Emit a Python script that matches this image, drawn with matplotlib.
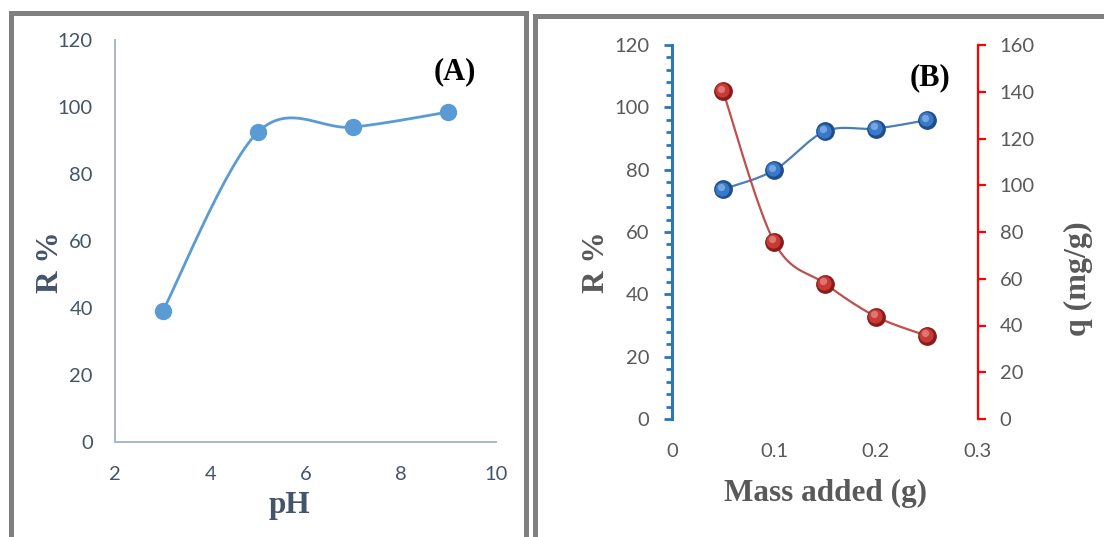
import numpy as np
import matplotlib
matplotlib.use("Agg")
import matplotlib.pyplot as plt
from matplotlib.patches import Rectangle
from matplotlib.ticker import MultipleLocator
import matplotlib.transforms as mtransforms

# data
ph = [3, 5, 7, 9]
removal_ph = [39, 92.5, 94, 98.5]

mass = [0.05, 0.10, 0.15, 0.20, 0.25]
removal_mass = [73.7, 79.8, 92.3, 93.2, 95.9]
q_mass = [140.3, 75.9, 57.9, 43.8, 35.6]

W, H = 1104, 537
fig = plt.figure(figsize=(W / 100, H / 100), dpi=100)

def px(x, y):
    return x / W, 1 - y / H

def smooth(x, y, n=40):
    # Excel-like smoothed line (Catmull-Rom as cubic Bezier)
    x = np.asarray(x, float); y = np.asarray(y, float)
    P = np.column_stack([x, y])
    pts = []
    t = np.linspace(0, 1, n)[:, None]
    for i in range(len(P) - 1):
        p0 = P[max(i - 1, 0)]; p1 = P[i]; p2 = P[i + 1]; p3 = P[min(i + 2, len(P) - 1)]
        c1 = p1 + (p2 - p0) / 6
        c2 = p2 - (p3 - p1) / 6
        seg = (1 - t) ** 3 * p1 + 3 * (1 - t) ** 2 * t * c1 + 3 * (1 - t) * t ** 2 * c2 + t ** 3 * p2
        pts.append(seg)
    pts = np.vstack(pts)
    return pts[:, 0], pts[:, 1]

def spheres(ax, x, y, dark, mid, light, size=12.5):
    # fake 3D ball: dark rim, main body, soft highlight up-left
    ax.plot(x, y, 'o', ms=size, color=dark, mec=dark, zorder=4)
    off1 = mtransforms.offset_copy(ax.transData, fig=fig, x=-0.6, y=0.8, units='dots')
    ax.plot(x, y, 'o', ms=size * 0.82, color=mid, mec='none', zorder=5, transform=off1)
    off2 = mtransforms.offset_copy(ax.transData, fig=fig, x=-1.8, y=2.4, units='dots')
    ax.plot(x, y, 'o', ms=size * 0.42, color=light, mec='none', alpha=0.55, zorder=6, transform=off2)

tick_font = "Lato"
label_font = "Liberation Serif"

# frames
fig.patches.append(Rectangle((10.5 / W, -0.1), 515 / W, 1.1 - 12.5 / H, transform=fig.transFigure,
                             fill=False, ec='#808080', lw=3.6))
fig.patches.append(Rectangle((534.5 / W, -0.1), 0.6, 1.1 - 15.5 / H, transform=fig.transFigure,
                             fill=False, ec='#808080', lw=3.6))

# ---------- panel A ----------
l, b = px(115, 442)
r, t = px(496, 40)
axA = fig.add_axes([l, b, r - l, t - b])
xs, ys = smooth(ph, removal_ph)
axA.plot(xs, ys, color='#5B9BD5', lw=2, zorder=3)
axA.plot(ph, removal_ph, 'o', ms=11.5, color='#5B9BD5', zorder=4)
axA.set_xlim(2, 10)
axA.set_ylim(0, 120)
axA.set_xticks([2, 4, 6, 8, 10])
axA.set_yticks(range(0, 121, 20))
for s in ['top', 'right']:
    axA.spines[s].set_visible(False)
for s in ['left', 'bottom']:
    axA.spines[s].set_color('#A9B5C9')
    axA.spines[s].set_linewidth(1.4)
axA.tick_params(length=0, labelsize=14.5, labelcolor='#44546A')
axA.tick_params(axis='y', pad=16)
axA.tick_params(axis='x', pad=17)
for lab in axA.get_xticklabels() + axA.get_yticklabels():
    lab.set_fontfamily(tick_font)

fig.text(*px(50, 262), 'R %', rotation=90, ha='center', va='center', fontsize=22.5,
         fontweight='bold', family=label_font, color='#44546A')
fig.text(*px(289, 505), 'pH', ha='center', va='center', fontsize=22.5,
         fontweight='bold', family=label_font, color='#44546A')
fig.text(*px(455, 72), '(A)', ha='center', va='center', fontsize=22,
         fontweight='bold', family=label_font, color='black')

# ---------- panel B ----------
l, b = px(672, 419)
r, t = px(978, 45)
axB = fig.add_axes([l, b, r - l, t - b])
axB2 = axB.twinx()

xs, ys = smooth(mass, removal_mass)
axB.plot(xs, ys, color='#4A7EBB', lw=1.6, zorder=3)
spheres(axB, mass, removal_mass, '#1F4E8C', '#3A78C9', '#A9CCF2')

xs, ys = smooth(mass, q_mass)
axB2.plot(xs, ys, color='#C0504D', lw=1.6, zorder=3)
spheres(axB2, mass, q_mass, '#8B1A1A', '#C83A36', '#F2A8A8')

axB.set_xlim(0, 0.3)
axB.set_ylim(0, 120)
axB2.set_ylim(0, 160)
axB.set_xticks([0, 0.1, 0.2, 0.3])
axB.set_xticklabels(['0', '0.1', '0.2', '0.3'])
axB.set_yticks(range(0, 121, 20))
axB.yaxis.set_minor_locator(MultipleLocator(4))
axB2.set_yticks(range(0, 161, 20))

for a in (axB, axB2):
    for s in a.spines.values():
        s.set_visible(False)
axB.spines['left'].set_visible(True)
axB.spines['left'].set_color('#2E75B6')
axB.spines['left'].set_linewidth(2.2)
axB2.spines['right'].set_visible(True)
axB2.spines['right'].set_color('#FF0000')
axB2.spines['right'].set_linewidth(1.6)

axB.tick_params(axis='x', length=0, labelsize=14.5, labelcolor='#595959', pad=17)
axB.tick_params(axis='y', which='major', length=5.5, width=2, color='#2E75B6',
                labelsize=14.5, labelcolor='#595959', pad=11)
axB.tick_params(axis='y', which='minor', length=4.5, width=2, color='#2E75B6')
axB2.tick_params(axis='y', length=5.5, width=1.6, color='#FF0000',
                 labelsize=14.5, labelcolor='#595959', pad=10)
for lab in axB.get_xticklabels() + axB.get_yticklabels() + axB2.get_yticklabels():
    lab.set_fontfamily(tick_font)

fig.text(*px(597, 262), 'R %', rotation=90, ha='center', va='center', fontsize=22.5,
         fontweight='bold', family=label_font, color='#595959')
fig.text(*px(825, 493), 'Mass added (g)', ha='center', va='center', fontsize=22.5,
         fontweight='bold', family=label_font, color='#595959')
fig.text(*px(1078, 279), 'q (mg/g)', rotation=90, ha='center', va='center', fontsize=23,
         fontweight='bold', family=label_font, color='#595959')
fig.text(*px(930, 78), '(B)', ha='center', va='center', fontsize=22,
         fontweight='bold', family=label_font, color='black')

fig.savefig('out.png', dpi=100)
